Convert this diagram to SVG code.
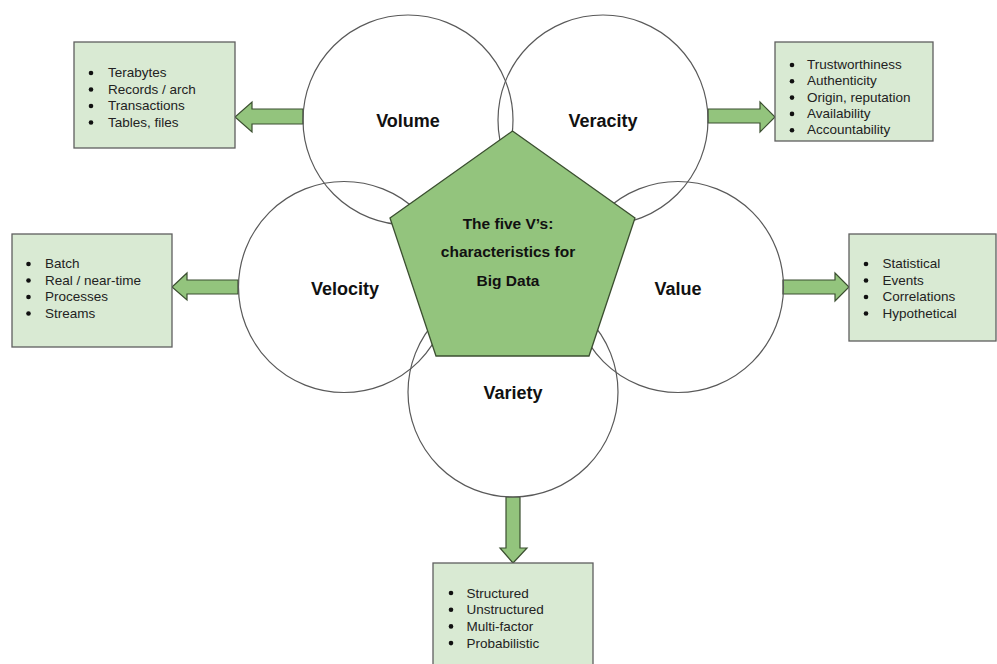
<svg xmlns="http://www.w3.org/2000/svg" width="997" height="664" viewBox="0 0 997 664">
  <style>
    .ring { fill: none; stroke: #595959; stroke-width: 1.2; }
    .core { fill: #93c47d; stroke: #3b4f30; stroke-width: 1.3; }
    .box { fill: #d9ead3; stroke: #5f5f5f; stroke-width: 1.3; }
    .arrow { fill: #93c47d; stroke: #3b4f30; stroke-width: 1.2; }
    .label { font-family: "Liberation Sans", Arial, sans-serif; font-weight: bold; font-size: 18px; fill: #111; text-anchor: middle; }
    .title { font-family: "Liberation Sans", Arial, sans-serif; font-weight: bold; font-size: 15.5px; fill: #111; text-anchor: middle; }
    .item { font-family: "Liberation Sans", Arial, sans-serif; font-size: 13.5px; fill: #222; }
    .dot { fill: #111; }
  </style>
  <rect width="997" height="664" fill="#ffffff"/>

  <!-- connectors: block arrows from each circle to its list -->
  <g id="connectors">
    <polygon class="arrow" points="303,109 252,109 252,102 235,117 252,132 252,124 303,124"/>
    <polygon class="arrow" points="708,109 760,109 760,102 775,117 760,132 760,123 708,123"/>
    <polygon class="arrow" points="238,280 187,280 187,273 172,287 187,300 187,294 238,294"/>
    <polygon class="arrow" points="783,280 835,280 835,273 849,287 835,301 835,294 783,294"/>
    <polygon class="arrow" points="506,497 506,548 500,548 513,563 527,548 520,548 520,497"/>
  </g>

  <!-- the five circles -->
  <g id="volume">
    <circle class="ring" cx="408" cy="120" r="105"/>
    <text class="label" x="408" y="127">Volume</text>
  </g>
  <g id="veracity">
    <circle class="ring" cx="603" cy="120" r="105"/>
    <text class="label" x="603" y="127">Veracity</text>
  </g>
  <g id="velocity">
    <circle class="ring" cx="344" cy="287" r="105.5"/>
    <text class="label" x="345" y="295">Velocity</text>
  </g>
  <g id="value">
    <circle class="ring" cx="678" cy="287" r="105.5"/>
    <text class="label" x="678" y="295">Value</text>
  </g>
  <g id="variety">
    <circle class="ring" cx="513" cy="392" r="105"/>
    <text class="label" x="513" y="399">Variety</text>
  </g>

  <!-- central pentagon -->
  <g id="core">
    <polygon class="core" points="512.5,131 635,218 589,356 436,356 390,218"/>
    <text class="title" x="508" y="229">The five V’s:</text>
    <text class="title" x="508" y="257">characteristics for</text>
    <text class="title" x="508" y="285.5">Big Data</text>
  </g>

  <!-- lists -->
  <g id="volume-list">
    <rect class="box" x="74" y="42" width="161" height="106"/>
    <circle class="dot" cx="91" cy="73" r="2.3"/>
    <circle class="dot" cx="91" cy="89.5" r="2.3"/>
    <circle class="dot" cx="91" cy="106" r="2.3"/>
    <circle class="dot" cx="91" cy="122.5" r="2.3"/>
    <text class="item" x="108" y="77">Terabytes</text>
    <text class="item" x="108" y="93.5">Records / arch</text>
    <text class="item" x="108" y="110">Transactions</text>
    <text class="item" x="108" y="126.5">Tables, files</text>
  </g>

  <g id="veracity-list">
    <rect class="box" x="775" y="42" width="158" height="99"/>
    <circle class="dot" cx="792" cy="65" r="2.3"/>
    <circle class="dot" cx="792" cy="81.3" r="2.3"/>
    <circle class="dot" cx="792" cy="97.6" r="2.3"/>
    <circle class="dot" cx="792" cy="113.9" r="2.3"/>
    <circle class="dot" cx="792" cy="130.2" r="2.3"/>
    <text class="item" x="807" y="69">Trustworthiness</text>
    <text class="item" x="807" y="85.3">Authenticity</text>
    <text class="item" x="807" y="101.6">Origin, reputation</text>
    <text class="item" x="807" y="117.9">Availability</text>
    <text class="item" x="807" y="134.2">Accountability</text>
  </g>

  <g id="velocity-list">
    <rect class="box" x="12" y="234" width="160" height="113"/>
    <circle class="dot" cx="28.5" cy="264" r="2.3"/>
    <circle class="dot" cx="28.5" cy="280.5" r="2.3"/>
    <circle class="dot" cx="28.5" cy="297" r="2.3"/>
    <circle class="dot" cx="28.5" cy="313.5" r="2.3"/>
    <text class="item" x="45" y="268">Batch</text>
    <text class="item" x="45" y="284.5">Real / near-time</text>
    <text class="item" x="45" y="301">Processes</text>
    <text class="item" x="45" y="317.5">Streams</text>
  </g>

  <g id="value-list">
    <rect class="box" x="849" y="234" width="147" height="107"/>
    <circle class="dot" cx="866" cy="264" r="2.3"/>
    <circle class="dot" cx="866" cy="280.5" r="2.3"/>
    <circle class="dot" cx="866" cy="297" r="2.3"/>
    <circle class="dot" cx="866" cy="313.5" r="2.3"/>
    <text class="item" x="882.5" y="268">Statistical</text>
    <text class="item" x="882.5" y="284.5">Events</text>
    <text class="item" x="882.5" y="301">Correlations</text>
    <text class="item" x="882.5" y="317.5">Hypothetical</text>
  </g>

  <g id="variety-list">
    <rect class="box" x="433" y="563" width="160" height="110"/>
    <circle class="dot" cx="451" cy="593" r="2.3"/>
    <circle class="dot" cx="451" cy="609.7" r="2.3"/>
    <circle class="dot" cx="451" cy="626.4" r="2.3"/>
    <circle class="dot" cx="451" cy="643.1" r="2.3"/>
    <text class="item" x="466.5" y="597.5">Structured</text>
    <text class="item" x="466.5" y="614.2">Unstructured</text>
    <text class="item" x="466.5" y="630.9">Multi-factor</text>
    <text class="item" x="466.5" y="647.6">Probabilistic</text>
  </g>
</svg>
